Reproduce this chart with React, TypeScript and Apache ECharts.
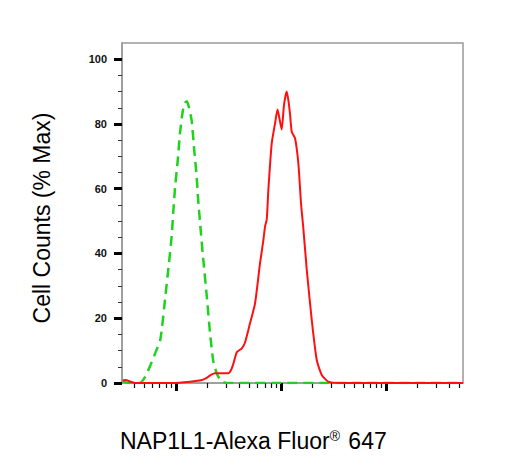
import React, { useEffect, useRef } from "react";
import * as echarts from "echarts";

// Isotype control (green, dashed)
const greenChannel = [31, 36, 45, 51, 57, 63, 71, 79, 85, 91, 94, 98, 104, 109, 116, 122, 127, 133, 141, 149, 157, 163, 172, 182, 196, 211, 227, 244, 263, 282, 313, 500, 1000, 5000, 20000, 54000];
const greenCount = [0.5, 0, 0, 2, 5.5, 9, 13.5, 26.5, 36, 45.5, 52.5, 60.5, 69, 77, 84, 86.5, 87, 85, 81, 72, 64, 56, 47, 38, 27, 15.3, 6.5, 3, 1, 0.3, 0, 0, 0, 0, 0, 0];

// NAP1L1 stained (red, solid)
const redChannel = [31, 33, 37, 41, 94, 136, 176, 196, 215, 235, 315, 334, 352, 379, 423, 454, 507, 565, 631, 678, 704, 731, 757, 815, 877, 926, 968, 1014, 1068, 1133, 1178, 1218, 1264, 1359, 1462, 1549, 1630, 1757, 1960, 2187, 2442, 2822, 3648, 10000, 54000];
const redCount = [0.8, 0.9, 0.4, 0, 0, 0.4, 0.9, 1.6, 2.5, 3, 3, 4, 6, 9.5, 10.7, 12.5, 18.5, 24.5, 37, 44, 48.3, 50.5, 59.6, 74, 80.2, 84.5, 81.5, 78.3, 86, 90, 87, 83, 77.6, 75.6, 67.8, 55.5, 47.8, 35, 19.5, 7.1, 2.5, 0.4, 0, 0, 0];

const xMajorTicks = [100, 1000, 10000];
const xMinorTicks = [40, 50, 60, 70, 80, 90, 200, 300, 400, 500, 600, 700, 800, 900, 2000, 3000, 4000, 5000, 6000, 7000, 8000, 9000, 20000, 30000, 40000, 50000];
const yTicks = [0, 20, 40, 60, 80, 100];

const xTitle = "NAP1L1-Alexa Fluor{sup|®} 647";
const yTitle = "Cell Counts (% Max)";

const FONT = "'Liberation Sans', Arial, sans-serif";

export default function App() {
  const ref = useRef<HTMLDivElement>(null);
  useEffect(() => {
    if (!ref.current) return;
    const chart = echarts.init(ref.current, null, { renderer: "svg" });
    const xMin = 30.6;
    const xMax = 54000;
    const axisColor = "#999";
    chart.setOption({
      animation: false,
      backgroundColor: "#fff",
      grid: { left: 122, right: 42, top: 43, bottom: 83, show: true, borderColor: axisColor, borderWidth: 1.5 },
      xAxis: [
        {
          type: "log", logBase: 10, min: xMin, max: xMax, position: "bottom",
          axisLine: { show: true, lineStyle: { color: axisColor, width: 1.5 } },
          axisTick: { show: true, inside: false, length: 8, customValues: xMajorTicks, lineStyle: { color: "#000", width: 3 } },
          axisLabel: { show: false },
          splitLine: { show: false },
          minorTick: { show: false },
        },
        {
          type: "log", logBase: 10, min: xMin, max: xMax, position: "bottom",
          axisLine: { show: false },
          axisTick: { show: true, inside: false, length: 5, customValues: xMinorTicks, lineStyle: { color: "#111", width: 1.2 } },
          axisLabel: { show: false },
          splitLine: { show: false },
          minorTick: { show: false },
        },
      ],
      yAxis: {
        type: "value", min: 0, max: 105, interval: 20,
        axisLine: { show: true, lineStyle: { color: axisColor, width: 1.5 } },
        axisTick: { show: true, inside: false, length: 8, customValues: yTicks, lineStyle: { color: "#000", width: 3 } },
        minorTick: { show: true, splitNumber: 4, length: 4, lineStyle: { color: "#333", width: 1 } },
        axisLabel: { customValues: yTicks, margin: 15, fontSize: 11, fontWeight: "bold", color: "#111", fontFamily: FONT },
        splitLine: { show: false },
      },
      series: [
        {
          type: "line", xAxisIndex: 0, yAxisIndex: 0, symbol: "none", smooth: 0.2,
          data: greenChannel.map((c, i) => [c, greenCount[i]]),
          lineStyle: { color: "#1ed21e", width: 2.5, type: [10, 6] },
          z: 2,
        },
        {
          type: "line", xAxisIndex: 0, yAxisIndex: 0, symbol: "none", smooth: 0.2,
          data: redChannel.map((c, i) => [c, redCount[i]]),
          lineStyle: { color: "#ff1010", width: 2 },
          z: 3,
        },
      ],
      graphic: [
        {
          type: "text", x: 120, y: 441,
          style: {
            text: xTitle, fill: "#000", fontSize: 23, fontFamily: FONT, verticalAlign: "middle", align: "left",
            rich: { sup: { fontSize: 14, fontFamily: FONT, fill: "#000", padding: [0, 2, 10, 0] } },
          },
        },
        {
          type: "text", x: 42, y: 218, rotation: Math.PI / 2,
          style: { text: yTitle, fill: "#000", fontSize: 23, fontFamily: FONT, align: "center", verticalAlign: "middle" },
        },
      ],
    });
    return () => chart.dispose();
  }, []);
  return <div ref={ref} style={{ position: "absolute", left: 0, top: 0, width: 505, height: 466 }} />;
}
